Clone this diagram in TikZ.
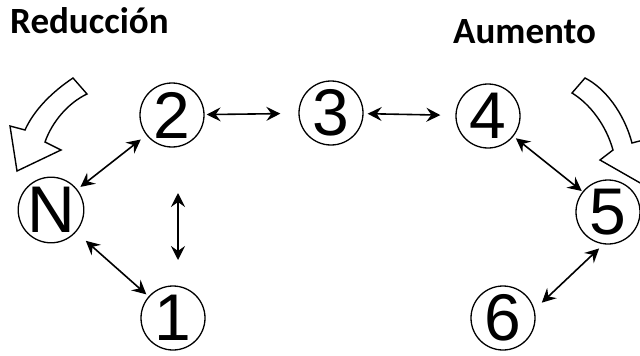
\documentclass[tikz,border=0pt]{standalone}
\usepackage{fontspec}
\setmainfont{Liberation Sans}
\newfontfamily\titlefont{Carlito}
\usetikzlibrary{arrows.meta}

\begin{document}
\begin{tikzpicture}[x=1pt,y=-1pt,
  stage/.style={circle,draw,line width=1.3pt,minimum size=64pt,inner sep=0pt,font=\fontsize{66}{66}\selectfont},
  swap/.style={{Stealth[length=14pt,width=14pt,inset=5pt]}-{Stealth[length=14pt,width=14pt,inset=5pt]},line width=1.6pt},
  hollow/.style={draw,line width=1.4pt,line join=miter,fill=white},
  heading/.style={anchor=base west,inner sep=0pt,font=\titlefont\bfseries\fontsize{37}{37}\selectfont}]
\useasboundingbox (0,0) rectangle (640,356);
\clip (0,0) rectangle (640,356);
\node[heading] (reduc) at (10,33) {Reducción};
\node[heading] (aumen) at (453,43) {Aumento};
% the stages
\node[stage] (nN) at (51,210) {N};
\node[stage] (n1) at (173,318) {1};
\node[stage] (n2) at (172,115) {2};
\node[stage] (n3) at (331,113) {3};
\node[stage] (n4) at (488,116) {4};
\node[stage] (n5) at (608,212) {5};
\node[stage] (n6) at (503,318) {6};
% transitions
\draw[swap,shorten <=2pt,shorten >=18pt] (n2) -- (n3);
\draw[swap,shorten <=4pt,shorten >=15pt] (n3) -- (n4);
\draw[swap,shorten <=4pt,shorten >=7pt] (nN) -- (n2);
\draw[swap,shorten <=13pt,shorten >=3pt] (nN) -- (n1);
\draw[swap,shorten <=3pt,shorten >=1pt] (n4) -- (n5);
\draw[swap,shorten <=6pt,shorten >=10pt] (n5.-98) -- (n6.15);
\coordinate (vtop) at (178,193);
\coordinate (vbot) at (178,260);
\draw[swap] (vtop) -- (vbot);
% big hollow arrows
\draw[hollow] (73,78) .. controls (52,92) and (34,110) .. (25,130) -- (10,126) -- (17,171) -- (61,150) -- (45,142) .. controls (52,122) and (68,103) .. (87,94) -- cycle;
\draw[hollow] (585,78) .. controls (605,88) and (624,113) .. (632,143) -- (655,137) -- (642,184) -- (600,160) -- (613,150) .. controls (606,125) and (590,104) .. (572,93) -- cycle;
\end{tikzpicture}
\end{document}
